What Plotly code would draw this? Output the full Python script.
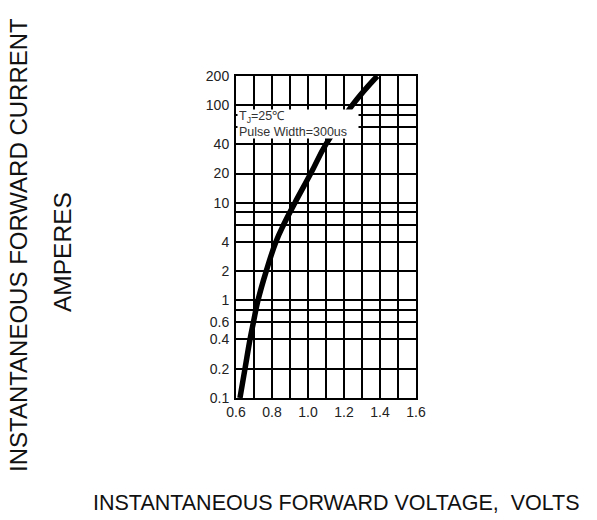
import plotly.graph_objects as go

# Forward characteristic
voltage = [0.622, 0.65, 0.678, 0.697, 0.722, 0.768, 0.822, 0.865, 0.927, 1.015, 1.10, 1.245, 1.385]
current = [0.1, 0.2, 0.4, 0.6, 1, 2, 4, 6, 10, 20, 40, 100, 200]

x_ticks = [0.6, 0.8, 1.0, 1.2, 1.4, 1.6]
x_tick_text = ["0.6", "0.8", "1.0", "1.2", "1.4", "1.6"]
y_ticks = [0.1, 0.2, 0.4, 0.6, 1, 2, 4, 10, 20, 40, 100, 200]
y_tick_text = ["0.1", "0.2", "0.4", "0.6", "1", "2", "4", "10", "20", "40", "100", "200"]
y_minor_grid = [0.8, 6, 8, 60, 80]

# page body adds an 8px offset; figure sized to fit the 597x520 window
W, H = 589, 512
L, T = 228, 68
PW, PH = 180, 322

fig = go.Figure()
fig.add_trace(go.Scatter(
    x=voltage, y=current, mode="lines",
    line=dict(color="black", width=5.5, shape="spline", smoothing=1.2),
    showlegend=False, hoverinfo="skip",
))

fig.update_layout(
    width=W, height=H,
    margin=dict(l=L, r=W - L - PW, t=T, b=H - T - PH, pad=0),
    paper_bgcolor="white", plot_bgcolor="white",
    font=dict(family="Liberation Sans, Arial, sans-serif", color="#111"),
    xaxis=dict(
        range=[0.6, 1.6], tickmode="array", tickvals=x_ticks, ticktext=x_tick_text,
        showgrid=True, gridcolor="black", gridwidth=2,
        minor=dict(dtick=0.1, tick0=0.6, showgrid=True, gridcolor="black", gridwidth=2),
        showline=True, linecolor="black", linewidth=2, mirror=True,
        ticks="", tickfont=dict(size=14, color="#222"), ticklabelstandoff=0,
        zeroline=False,
    ),
    yaxis=dict(
        type="log", range=[-1, 2.30103], tickmode="array", tickvals=y_ticks, ticktext=y_tick_text,
        showgrid=True, gridcolor="black", gridwidth=2,
        minor=dict(tickmode="array", tickvals=y_minor_grid, showgrid=True, gridcolor="black", gridwidth=2),
        showline=True, linecolor="black", linewidth=2, mirror=True,
        ticks="", tickfont=dict(size=14, color="#222"), ticklabelstandoff=2,
        zeroline=False,
    ),
)

fig.add_annotation(
    xref="paper", yref="paper", x=0.003, y=0.8975, xanchor="left", yanchor="top",
    text="T<sub>J</sub>=25\u2103<br>Pulse Width=300us",
    showarrow=False, align="left", bgcolor="white", width=118, height=26,
    font=dict(size=12.5, color="#333"), borderpad=1,
)

def px(x):
    return (x - 8 - L) / PW

def py(y):
    return (T + PH - (y - 8)) / PH

# Axis titles
fig.add_annotation(
    xref="paper", yref="paper", x=px(336), y=py(503),
    text="INSTANTANEOUS FORWARD VOLTAGE,\u00a0 VOLTS", showarrow=False,
    xanchor="center", yanchor="middle", font=dict(size=21.5, color="#111"),
)
fig.add_annotation(
    xref="paper", yref="paper", x=px(18), y=py(245),
    text="INSTANTANEOUS FORWARD CURRENT", showarrow=False, textangle=-90,
    xanchor="center", yanchor="middle", font=dict(size=24, color="#111"),
)
fig.add_annotation(
    xref="paper", yref="paper", x=px(63), y=py(252),
    text="AMPERES", showarrow=False, textangle=-90,
    xanchor="center", yanchor="middle", font=dict(size=24.5, color="#111"),
)

fig.write_html("out.html")
